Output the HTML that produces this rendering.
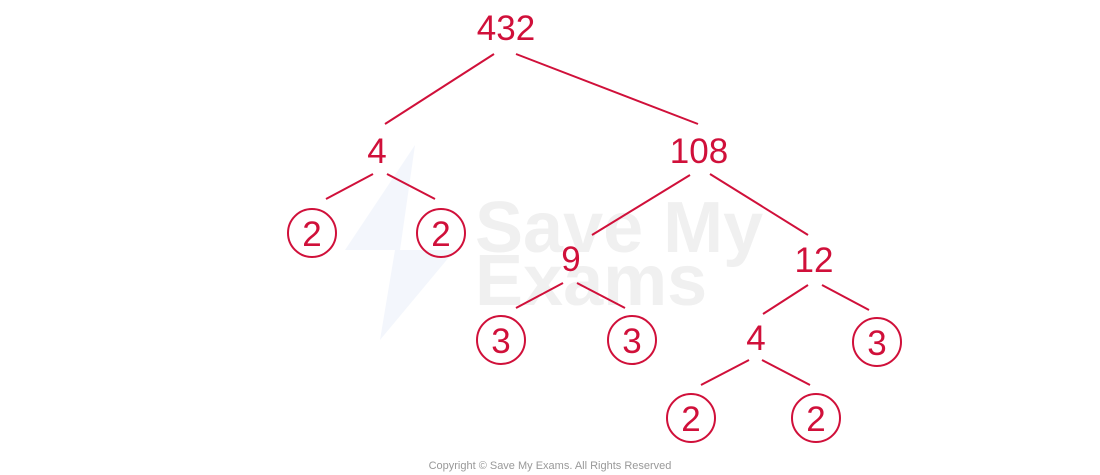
<!DOCTYPE html>
<html><head><style>
body{margin:0;background:#fff;width:1100px;height:475px;overflow:hidden}
svg{display:block}
</style></head><body>
<svg width="1100" height="475" viewBox="0 0 1100 475" font-family="'Liberation Sans',sans-serif">
<g fill="#f0f0f0" font-weight="bold" font-size="72">
<text x="475" y="252">Save My</text>
<text x="475" y="305">Exams</text>
</g>
<polygon points="415,145 400,250 455,250 380,340 395,250 345,250" fill="#f3f6fc"/>
<g stroke="#d0103a" stroke-width="2" fill="none">
<line x1="494" y1="54" x2="385" y2="124"/>
<line x1="516" y1="54" x2="698" y2="124"/>
<line x1="373" y1="174" x2="326" y2="199"/>
<line x1="387" y1="174" x2="435" y2="199"/>
<line x1="690" y1="175" x2="592" y2="235"/>
<line x1="710" y1="174" x2="808" y2="235"/>
<line x1="563" y1="283" x2="516" y2="308"/>
<line x1="577" y1="283" x2="625" y2="308"/>
<line x1="808" y1="285" x2="763" y2="314"/>
<line x1="822" y1="285" x2="869" y2="310"/>
<line x1="749" y1="360" x2="701" y2="385"/>
<line x1="762" y1="360" x2="810" y2="385"/>
<circle cx="312" cy="233" r="24"/>
<circle cx="441" cy="233" r="24"/>
<circle cx="501" cy="340" r="24"/>
<circle cx="632" cy="340" r="24"/>
<circle cx="877" cy="342" r="24"/>
<circle cx="691" cy="418" r="24"/>
<circle cx="816" cy="418" r="24"/>
</g>
<g fill="#d0103a" font-size="35" text-anchor="middle">
<text x="506" y="40">432</text>
<text x="377" y="163">4</text>
<text x="699" y="163">108</text>
<text x="571" y="271">9</text>
<text x="814" y="272">12</text>
<text x="756" y="350">4</text>
<text x="312" y="246">2</text>
<text x="441" y="246">2</text>
<text x="501" y="353">3</text>
<text x="632" y="353">3</text>
<text x="877" y="355">3</text>
<text x="691" y="431">2</text>
<text x="816" y="431">2</text>
</g>
<text x="550" y="469" text-anchor="middle" font-size="11" fill="#999">Copyright © Save My Exams. All Rights Reserved</text>
</svg>
</body></html>
